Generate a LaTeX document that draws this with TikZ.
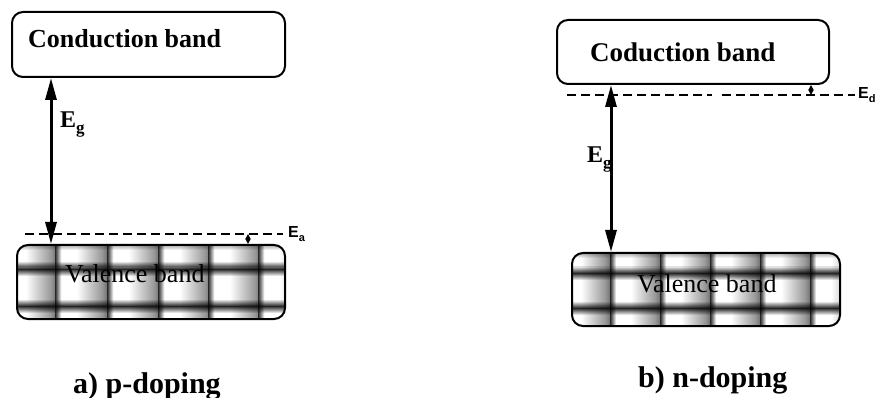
\documentclass[tikz,border=0pt]{standalone}
\usepackage{fontspec}
\setmainfont{Liberation Serif}
\newfontfamily\labelsans{Liberation Sans}
\usetikzlibrary{arrows.meta}

% one tile of the valence-band texture: black seam on the left, bright centre, grey right side
\pgfdeclarehorizontalshading{tileh}{100bp}{color(0bp)=(black!85); color(25bp)=(black!85);
  color(31bp)=(white); color(46bp)=(white); color(70bp)=(black!40); color(75bp)=(black!55);
  color(100bp)=(black!55)}

\tikzset{
  band/.style={draw, line width=2pt, rounded corners=11pt, inner sep=0pt},
  bandtext/.style={anchor=base west, inner sep=0pt, font=\fontsize{26}{30}\selectfont\bfseries},
  valtext/.style={anchor=base west, inner sep=0pt, font=\fontsize{26}{30}\selectfont},
  caption/.style={anchor=base west, inner sep=0pt, font=\fontsize{30}{34}\selectfont\bfseries},
  gaplabel/.style={anchor=base west, inner sep=0pt},
  levellabel/.style={anchor=base west, inner sep=0pt, font=\labelsans\bfseries\fontsize{16}{18}\selectfont},
  level/.style={line width=1.8pt, dash pattern=on 9pt off 5pt},
  gaparrow/.style={line width=3pt, {Triangle[length=22pt,width=11pt]}-{Triangle[length=22pt,width=11pt]}},
  offset/.style={line width=1.2pt, {Triangle[length=5pt,width=5pt]}-{Triangle[length=5pt,width=5pt]}},
}

% dark seam between tile rows, built from thin strips of falling opacity
\newcommand\rowseam[4]{% x-from, x-to, y, peak opacity
  \foreach \d [evaluate=\d as \o using {#4*(1-abs(\d)/7)}] in {-6,...,6}
    \fill[black, opacity=\o] (#1,{#3+\d-0.5}) rectangle (#2,{#3+\d+0.5});}

\newcommand\gapsym{\fontsize{24}{28}\selectfont\bfseries E\raisebox{-6pt}{\fontsize{17}{20}\selectfont g}}
\newcommand\levelsym[1]{E\raisebox{-4pt}{\fontsize{11}{12}\selectfont #1}}

\begin{document}
\begin{tikzpicture}[x=1pt,y=-1pt]
\useasboundingbox (0,0) rectangle (881,398);

% ---------- a) p-doping ----------
\begin{scope}
  \clip[rounded corners=11pt] (17,245) rectangle (285,319);
  \foreach \x in {4,55,107,158,208,258}
    \foreach \y in {231,268,305}
      \shade[shading=tileh] (\x,\y) rectangle ++(52,37);
  \rowseam{0}{300}{269}{0.85}
  \rowseam{0}{300}{306}{0.85}
  \rowseam{0}{300}{244}{0.45}
\end{scope}
\node[band, minimum width=273pt, minimum height=65pt] (cb1) at (148.5,44.5) {};
\node[band, minimum width=268pt, minimum height=74pt] (vb1) at (151,282) {};
\node[bandtext] (cbt1) at (28,48) {Conduction band};
\node[valtext] (vbt1) at (65,283) {Valence band};

\draw[level] (25,234) -- (283,234);
\node[levellabel] (ea) at (288,238) {\levelsym{a}};
\coordinate (ax1) at (51,0);
\coordinate (ox1) at (248,234);
\draw[gaparrow] (cb1.south -| ax1) -- (vb1.north -| ax1);
\draw[offset] (ox1) -- (vb1.north -| ox1);
\node[gaplabel] (eg1) at (60,128) {\gapsym};
\node[caption] (capa) at (73,393) {a) p-doping};

% ---------- b) n-doping ----------
\begin{scope}
  \clip[rounded corners=11pt] (572,253) rectangle (840,326);
  \foreach \x in {560,610,660,710,760,810}
    \foreach \y in {238,273,308}
      \shade[shading=tileh] (\x,\y) rectangle ++(50,35);
  \rowseam{560}{860}{273}{0.85}
  \rowseam{560}{860}{308}{0.85}
  \rowseam{560}{860}{252}{0.45}
\end{scope}
\node[band, minimum width=272pt, minimum height=64pt] (cb2) at (693,52) {};
\node[band, minimum width=268pt, minimum height=73pt] (vb2) at (706,289.5) {};
\node[bandtext, font=\fontsize{27}{30}\selectfont\bfseries] (cbt2) at (590,62) {Coduction band};
\node[valtext] (vbt2) at (637,292) {Valence band};

\draw[level] (567,95) -- (712,95);
\draw[level] (722,95) -- (855,95);
\node[levellabel] (ed) at (858,99) {\levelsym{d}};
\coordinate (ax2) at (611,0);
\coordinate (ox2) at (811,95);
\draw[gaparrow] (cb2.south -| ax2) -- (vb2.north -| ax2);
\draw[offset] (cb2.south -| ox2) -- (ox2);
\node[gaplabel] (eg2) at (587,163) {\gapsym};
\node[caption] (capb) at (638,387) {b) n-doping};
\end{tikzpicture}
\end{document}
